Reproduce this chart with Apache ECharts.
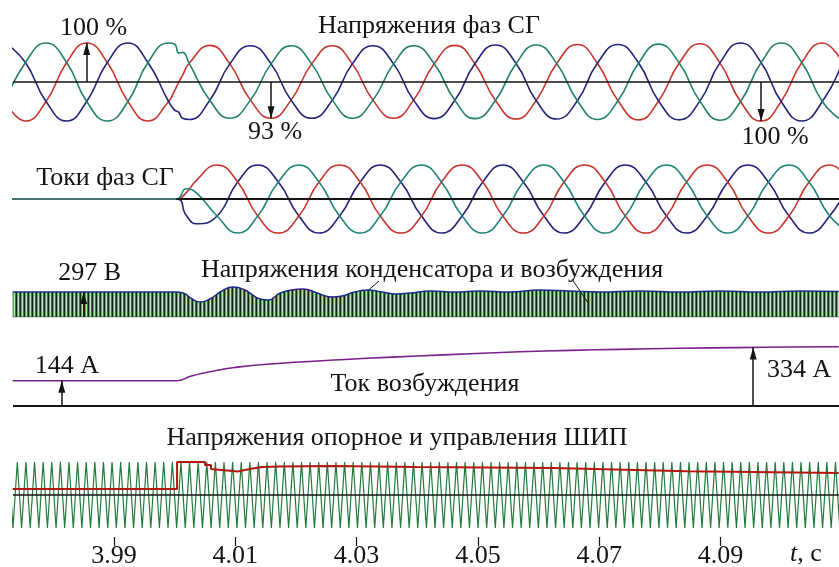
<!DOCTYPE html>
<html>
<head>
<meta charset="utf-8">
<script src="https://cdn.jsdelivr.net/npm/echarts@6/dist/echarts.min.js"></script>
<style>
  html, body { margin: 0; padding: 0; background: #fff; }
  #chart { width: 839px; height: 567px; }
</style>
</head>
<body>
<div id="chart"></div>
<script>
// ---- time axis, s ----
const tMin = 3.97335, tMax = 4.10954;
const tickValues = [3.99, 4.01, 4.03, 4.05, 4.07, 4.09];

// ---- panel titles ----
const panelTitles = [
  'Напряжения фаз СГ',
  'Токи фаз СГ',
  'Напряжения конденсатора и возбуждения',
  'Ток возбуждения',
  'Напряжения опорное и управления ШИП'
];

// ---- generator phase voltages, p.u. of nominal amplitude ----
const uT = [3.9721, 3.9754, 3.9788, 3.9822, 3.9855, 3.9889, 3.9923, 3.9956, 3.9990,
  4.0000, 4.0007, 4.0013,
  4.0024, 4.0058, 4.0091, 4.0125, 4.0159, 4.0192, 4.0226, 4.0260, 4.0293, 4.0327,
  4.0361, 4.0394, 4.0428, 4.0462, 4.0495, 4.0529, 4.0563, 4.0596, 4.0630, 4.0664,
  4.0697, 4.0731, 4.0765, 4.0798, 4.0832, 4.0866, 4.0899, 4.0933, 4.0967, 4.1000,
  4.1034, 4.1068, 4.1101];
const uRed = [-0.5, -1, -0.5, 0.5, 1, 0.5, -0.5, -1, -0.5,
  -0.22, 0.0, 0.17,
  0.48, 0.94, 0.465, -0.465, -0.93, -0.465, 0.465, 0.93, 0.465, -0.465,
  -0.93, -0.465, 0.47, 0.94, 0.47, -0.475, -0.95, -0.475, 0.475, 0.96,
  0.48, -0.48, -0.97, -0.485, 0.485, 0.98, 0.49, -0.5, -1, -0.5,
  0.5, 1, 0.5];
const uGreen = [-0.5, 0.5, 1, 0.5, -0.5, -1, -0.5, 0.5, 1,
  0.97, 0.74, 0.76,
  0.48, -0.47, -0.93, -0.465, 0.465, 0.93, 0.465, -0.465, -0.93, -0.465,
  0.465, 0.93, 0.47, -0.47, -0.94, -0.475, 0.475, 0.95, 0.475, -0.48,
  -0.96, -0.48, 0.485, 0.97, 0.485, -0.49, -0.98, -0.5, 0.5, 1,
  0.5, -0.5, -1];
const uBlue = [1, 0.5, -0.5, -1, -0.5, 0.5, 1, 0.5, -0.5,
  -0.72, -0.78, -0.93,
  -0.96, -0.47, 0.465, 0.93, 0.465, -0.465, -0.93, -0.465, 0.465, 0.93,
  0.465, -0.465, -0.94, -0.47, 0.47, 0.95, 0.475, -0.475, -0.95, -0.48,
  0.48, 0.96, 0.485, -0.485, -0.97, -0.49, 0.49, 1, 0.5, -0.5,
  -1, -0.5, 0.5];
// voltage annotations: time, value
const uMarkT = [3.9855, 4.0159, 4.0967];
const uMarkV = [1.0, -0.93, -1.0];

// ---- generator phase currents, p.u. ----
const iT = [3.9720, 4.0003, 4.0019, 4.0036,
  4.0070, 4.0104, 4.0137, 4.0171, 4.0205, 4.0238, 4.0272, 4.0306, 4.0339, 4.0373,
  4.0407, 4.0440, 4.0474, 4.0508, 4.0541, 4.0575, 4.0609, 4.0642, 4.0676, 4.0710,
  4.0743, 4.0777, 4.0811, 4.0844, 4.0878, 4.0912, 4.0945, 4.0979, 4.1013, 4.1046,
  4.1080, 4.1114];
const iRed = [0, 0, 0.18, 0.55,
  1, 0.5, -0.5, -1, -0.5, 0.5, 1, 0.5, -0.5, -1,
  -0.5, 0.5, 1, 0.5, -0.5, -1, -0.5, 0.5, 1, 0.5,
  -0.5, -1, -0.5, 0.5, 1, 0.5, -0.5, -1, -0.5, 0.5,
  1, 0.5];
const iGreen = [0, 0, 0.3, 0.18,
  -0.5, -1, -0.5, 0.5, 1, 0.5, -0.5, -1, -0.5, 0.5,
  1, 0.5, -0.5, -1, -0.5, 0.5, 1, 0.5, -0.5, -1,
  -0.5, 0.5, 1, 0.5, -0.5, -1, -0.5, 0.5, 1, 0.5,
  -0.5, -1];
const iBlue = [0, 0, -0.48, -0.73,
  -0.5, 0.5, 1, 0.5, -0.5, -1, -0.5, 0.5, 1, 0.5,
  -0.5, -1, -0.5, 0.5, 1, 0.5, -0.5, -1, -0.5, 0.5,
  1, 0.5, -0.5, -1, -0.5, 0.5, 1, 0.5, -0.5, -1,
  -0.5, 0.5];
const loadOnT = 4.0003;

// ---- capacitor voltage (envelope of excitation pulses), V ----
const ucT = [3.9733, 4.0001, 4.0014, 4.0029, 4.0042, 4.0058, 4.0078, 4.0096, 4.0116,
  4.0141, 4.0154, 4.0174, 4.0193, 4.0212, 4.0235, 4.0259, 4.0276, 4.0297, 4.0319,
  4.0342, 4.0365, 4.0388, 4.0421, 4.0462, 4.0503, 4.0553, 4.0602, 4.0652, 4.0701,
  4.0767, 4.0833, 4.0899, 4.0965, 4.1031, 4.1095];
const ucV = [297, 297, 285, 214, 178, 214, 309, 356, 321,
  214, 202, 285, 321, 333, 285, 238, 250, 297, 321,
  297, 273, 285, 309, 297, 309, 297, 321, 309, 297,
  309, 297, 309, 297, 309, 303];
const ucMarkT = 3.9850, ucMarkV = 297;

// ---- excitation current, A ----
const ifT = [3.9733, 4.0004, 4.0025, 4.0050, 4.0075, 4.0096, 4.0141, 4.0207, 4.0273,
  4.0317, 4.0400, 4.0487, 4.0569, 4.0652, 4.0734, 4.0833, 4.0927, 4.1015, 4.1095];
const ifV = [144, 144, 168, 190, 207, 218, 235, 251, 264,
  272, 285, 298, 309, 317, 323, 329, 333, 336, 338];
const ifMarkT = [3.9814, 4.0954];
const ifMarkV = [144, 334];

// ---- PWM converter: control voltage and reference carrier, p.u. of carrier peak ----
const ctrlT = [3.9733, 4.0004, 4.0004, 4.0050, 4.0050, 4.0060, 4.0060, 4.0104, 4.0124,
  4.0144, 4.0174, 4.0261, 4.0400, 4.0624, 4.0845, 4.1095];
const ctrlV = [0.18, 0.18, 1.0, 1.0, 0.91, 0.91, 0.79, 0.71, 0.79,
  0.85, 0.86, 0.88, 0.85, 0.82, 0.72, 0.67];
const carrierPeriod = 0.00142;   // reference saw period, s
const carrierLevels = [-1, 1];   // carrier valley / peak

// ---------------------------------------------------------------
const zip = (t, v) => t.map((x, i) => [x, v[i]]);
const FONT = '"Liberation Serif", "Times New Roman", serif';
const INK = '#141414';
const C_RED = '#c8352e', C_GREEN = '#22806b', C_BLUE = '#23237a';

// reference carrier vertices (alternating valley / peak)
const carrier = [];
for (let n = 0, t = tMin - carrierPeriod; t <= tMax + carrierPeriod; n++, t += carrierPeriod / 2) {
  carrier.push([t, carrierLevels[n % 2]]);
}

// striped fill for the excitation voltage pulses
function pulseStripes() {
  const c = document.createElement('canvas');
  c.width = 4; c.height = 4;
  const g = c.getContext('2d');
  ['#15271a', '#58ad58', '#b8e4b0', '#2f7f35'].forEach((col, i) => {
    g.fillStyle = col; g.fillRect(i, 0, 1, 4);
  });
  return c;
}

const grids = [
  { top: 39.1, height: 85.8 },
  { top: 158.2, height: 81.6 },
  { top: 277, height: 40 },
  { top: 336, height: 70 },
  { top: 455.4, height: 79.2 },
  { top: 530, height: 16 }
].map(g => Object.assign({ left: 13, right: 0, containLabel: false, outerBoundsMode: 'none' }, g));

const yRanges = [[-1.1, 1.1], [-1.2, 1.2], [0, 475], [0, 399], [-1.2, 1.2], [0, 1]];

const xAxes = grids.map((g, i) => {
  const base = { type: 'value', gridIndex: i, min: tMin, max: tMax, splitLine: { show: false } };
  if (i < 5) return Object.assign(base, { show: false });
  return Object.assign(base, {
    show: true,
    position: 'bottom',
    axisLine: { show: false },
    axisTick: { show: true, inside: true, length: 9, customValues: tickValues,
      lineStyle: { color: INK, width: 1.2 } },
    axisLabel: { show: true, customValues: tickValues, margin: -3,
      formatter: v => v.toFixed(2), fontSize: 26, fontFamily: FONT, color: INK }
  });
});
const yAxes = yRanges.map((r, i) => ({ type: 'value', gridIndex: i, min: r[0], max: r[1], show: false }));

function wave(grid, data, color, width, extra) {
  return Object.assign({
    type: 'line', xAxisIndex: grid, yAxisIndex: grid, data,
    symbol: 'none', smooth: true, lineStyle: { color, width }, silent: true
  }, extra || {});
}
function flat(grid, t0, t1, v, color, width, extra) {
  return Object.assign({
    type: 'line', xAxisIndex: grid, yAxisIndex: grid, data: [[t0, v], [t1, v]],
    symbol: 'none', lineStyle: { color, width }, z: 4, silent: true
  }, extra || {});
}
// arrow shaft from zero to a value, labelled with that value
function shaft(t, v, text, labelOpt) {
  return [
    { coord: [t, 0] },
    { coord: [t, v], label: Object.assign({
        show: true, position: 'end', formatter: text,
        fontSize: 26, fontFamily: FONT, color: INK }, labelOpt) }
  ];
}
const shafts = data => ({
  silent: true, animation: false, symbol: ['none', 'none'],
  lineStyle: { color: INK, width: 1.5, type: 'solid' },
  data
});
// arrow heads: triangles whose tip sits on the value
function heads(grid, ts, vs) {
  return {
    type: 'scatter', xAxisIndex: grid, yAxisIndex: grid, silent: true, z: 6,
    symbol: 'triangle', symbolSize: [7, 12],
    itemStyle: { color: INK, opacity: 1 },
    data: ts.map((t, i) => ({
      value: [t, vs[i]],
      symbolRotate: vs[i] >= 0 ? 0 : 180,
      symbolOffset: [0, vs[i] >= 0 ? 6 : -6]
    }))
  };
}
const pct = v => Math.round(Math.abs(v) * 100) + ' %';

const series = [
  // phase voltages
  wave(0, zip(uT, uRed), C_RED, 1.6),
  wave(0, zip(uT, uBlue), C_BLUE, 1.6),
  wave(0, zip(uT, uGreen), C_GREEN, 1.6),
  flat(0, tMin, tMax, 0, INK, 1.5, {
    markLine: shafts([
      shaft(uMarkT[0], uMarkV[0], pct(uMarkV[0]), { distance: 2, offset: [7, 0] }),
      shaft(uMarkT[1], uMarkV[1], pct(uMarkV[1]), { distance: 1, offset: [4, 0] }),
      shaft(uMarkT[2], uMarkV[2], pct(uMarkV[2]), { distance: 3, offset: [14, 0] })
    ])
  }),
  heads(0, uMarkT, uMarkV),

  // phase currents
  wave(1, zip(iT, iBlue), C_BLUE, 1.6),
  wave(1, zip(iT, iRed), C_RED, 1.6),
  wave(1, zip(iT, iGreen), '#23857a', 1.6),
  flat(1, loadOnT, tMax, 0, INK, 2),

  // capacitor voltage envelope over excitation pulses
  wave(2, zip(ucT, ucV), '#1b2a8a', 1.5, {
    areaStyle: { color: { image: pulseStripes(), repeat: 'repeat' }, opacity: 1, origin: 'start' },
    markLine: {
      silent: true, animation: false, symbol: ['none', 'none'],
      lineStyle: { color: INK, width: 1, type: 'solid' }, label: { show: false },
      data: [
        [{ coord: [4.0337, 428] }, { coord: [4.0320, 321] }],
        [{ coord: [4.0655, 451] }, { coord: [4.0683, 154] }]
      ]
    }
  }),
  flat(2, tMin, tMax, 0, '#555', 1, {
    markLine: shafts([shaft(ucMarkT, ucMarkV, ucMarkV + ' В', { distance: 6, offset: [6, 0] })])
  }),
  heads(2, [ucMarkT], [ucMarkV]),

  // excitation current
  wave(3, zip(ifT, ifV), '#7c1f8c', 1.6),
  flat(3, tMin, tMax, 0, INK, 2, {
    markLine: shafts([
      shaft(ifMarkT[0], ifMarkV[0], ifMarkV[0] + ' А', { distance: 2, offset: [5, 0] }),
      shaft(ifMarkT[1], ifMarkV[1], ifMarkV[1] + ' А', { distance: 0, offset: [46, 36] })
    ])
  }),
  heads(3, ifMarkT, ifMarkV),

  // PWM reference carrier and control voltage
  wave(4, carrier, '#237a3c', 1.2, { smooth: false }),
  flat(4, tMin, tMax, 0, INK, 1.5),
  wave(4, zip(ctrlT, ctrlV), '#b3180f', 2, { smooth: false, z: 5 })
];

const titlePos = [[429, 26], [105, 178], [432, 270], [425, 384], [397, 438]];
const graphic = panelTitles.map((text, i) => ({
  type: 'text', silent: true,
  style: { text, x: titlePos[i][0], y: titlePos[i][1], align: 'center', verticalAlign: 'middle',
    font: '26px ' + FONT, fill: INK }
}));
graphic.push({
  type: 'text', silent: true,
  style: {
    text: '{i|t}, с', x: 790, y: 554, align: 'left', verticalAlign: 'middle',
    font: '26px ' + FONT, fill: INK,
    rich: { i: { fontStyle: 'italic', fontSize: 26, fontFamily: FONT, fill: INK } }
  }
});

const chart = echarts.init(document.getElementById('chart'), null, { renderer: 'canvas' });
chart.setOption({
  animation: false,
  backgroundColor: '#ffffff',
  grid: grids,
  xAxis: xAxes,
  yAxis: yAxes,
  series,
  graphic
});
</script>
</body>
</html>
